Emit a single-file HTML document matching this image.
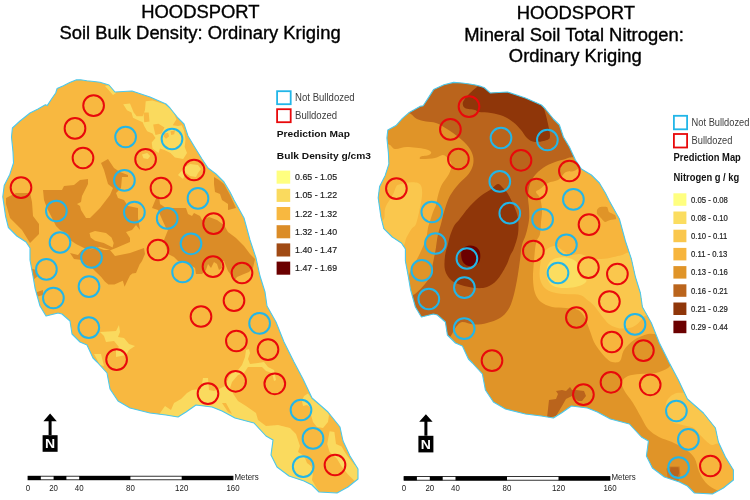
<!DOCTYPE html>
<html lang="en"><head><meta charset="utf-8"><title>Hoodsport kriging maps</title>
<style>html,body{margin:0;padding:0;background:#fff}body{width:750px;height:500px;overflow:hidden}#map{width:750px;height:500px;will-change:transform}svg{display:block;font-family:"Liberation Sans",sans-serif}</style></head>
<body>
<div id="map">
<svg width="750" height="500" viewBox="0 0 750 500">
<defs>
<clipPath id="cl"><path d="M12.4 128L20 121L30 113L38 109L45.4 104.8L47.2 105.6L51.7 98.8L55.7 93L57.1 88.5L63.4 85.7L69.7 82.6L76 79.9L80.5 79.7L86.8 80.8L94 81.5L100 82.2L109 85L115 92L132 91L150 97L166 104L170 108L178 118L184 124L188 136L194 146L202 159L208 168L216 174L224 182L230 192L234 200L244 218L250 240L256 258L260 276L265 292L267 306L276 322L284 342L294 362L303 379L312 398L328 412L340 427L343 441L350 456L358 469L358 479L348 487L337 493L319 492L312 485L304 481L289 476L277 467L271 455L273 440L266 436L254 423L235 418L222 411L212 407L196 405L186 412L178 417L166 415L150 413L130 408L118 401L110 389L107 373L97 362L93 358L87 345L80 342L72 334L70 321L62 314L58 313L46 316L40 306L35 288L33 276L30 260L30 248L26 242L16.8 236L8.4 227.6L5.6 216.4L2.8 196.8L4.2 185.6L9.8 174.4L13.5 163L13 152L11.5 137Z"/></clipPath>
<clipPath id="cr"><path d="M387.8 130L396 125.6L402.4 118.4L408.8 112.8L420 106.4L423.2 105.8L428 98.4L433.6 89.6L444 84.8L453.6 82.4L462 83L469.6 84L475.4 85L480.8 86.4L484 87.5L490.4 93L507.4 92L525.4 98L541.4 105L545.4 109L553.4 119L559.4 125L563.4 137L569.4 147L575.4 160L581.4 169L591.4 175L599.4 183L605.4 193L609.4 201L619.4 219L625.4 241L631.4 259L635.4 277L640.4 293L642.4 307L651.4 323L659.4 343L669.4 363L678.4 380L687.4 399L703.4 413L715.4 428L718.4 442L725.4 457L733.4 470L733.4 480L723.4 488L712.4 494L694.4 493L687.4 486L679.4 482L664.4 477L652.4 468L646.4 456L648.4 441L641.4 437L629.4 424L610.4 419L597.4 412L587.4 408L571.4 406L561.4 413L553.4 418L541.4 416L525.4 414L505.4 409L493.4 402L485.4 390L482.4 374L472.4 363L468.4 359L462.4 346L455.4 343L447.4 335L445.4 322L437.4 315L433.4 314L421.4 317L415.4 307L410.4 289L408.4 277L405.4 261L405.4 249L401.4 243L392.2 237L383.8 228.6L381 217.4L378.2 197.8L379.6 186.6L385.2 175.4L388.9 164L388.4 153L386.9 138Z"/></clipPath>
</defs>
<rect width="750" height="500" fill="#fff"/>
<g clip-path="url(#cl)">
<rect x="0" y="70" width="370" height="430" fill="#F8B840"/>
<path fill="#DB8C27" d="M6 198L16 193L30 193L32 202L33 216L39 224L39 234L30 243L22 230L10 218L6 204ZM43 190L62 190L64 186L74 185L80 180L88 179L88 184L82 196L81 202L77 204L80 206L81 210L86 218L90 218L100 208L110 195L113 188L108 184L104 170L101 163L108 159L114 168L120 172L128 175L128 177L122 177L121 188L116 193L118 198L124 200L128 206L138 208L138 218L140 230L136 225L132 230L126 232L130 238L130 242L116 248L111 250L104 250L96 247L88 250L76 244L70 240L68 234L60 230L56 226L52 218L47 208L44 200ZM70 253L74 259L82 260L84 264L92 268L96 272L101.2 277L104.8 281.4L108.4 284.4L114.4 284.4L122.8 280.8L124.6 286.8L127.6 280.2L130 275.4L132.4 273.6L136 273L139.6 264.6L142 261L145 254L144 248L130 253L115 256L110 250L100 247L88 250L82 250L78 255ZM152 208L157 196L159 196L160 204L166 208L186 208L188 214L192 216L194 213L200 216L202 220L209 217L217 220L224 225L228 232L236 238L244 246L250 254L255 259L253 268L249 272L244 274L237 277L234 281L231 275L228 271L224 261L221 261L222 268L219 270L217 264L214 262L211 268L208 264L206 270L202 274L196 274L195 268L190 265L186 262L178 261L174 257L168 254L164 240L168 230L166 228L161 217L158 210ZM214 177L219 180L224 184L230 195L236 208L228 210L228 204L222 200L220 194L215 192L214 184ZM30 268L36 270L38 276L33 280ZM34 293L43 290L43 295L36 297Z"/>
<path fill="#FADA5E" d="M145.7 101.2L152.5 100.5L164.5 104.2L169 107.2L174.2 114L176.5 119.2L172.7 125.2L178 126L181.7 125.2L184 130.5L185.5 139.5L184.7 147L187 153L183.2 159L175 157.5L170.5 153L164.5 150L160 148.5L158.5 153L152.5 148.5L151.7 142.5L155.5 138L152.5 133.5L147.2 131.2L144.2 126L142.7 122.2L142.7 116.2L145 110ZM123.2 104.2L130 103.5L133.7 112.5L136.7 116.2L142.7 116.2L142.7 122.2L136 119.2L133 117.7L131.5 112.5L127 110.2ZM142 154.5L147.2 153L150.2 156L148 159L143.5 158.2ZM185 167L190 164L198 165L201 169L198 173L196 177L190 176L186 173L183 179L178 175ZM105 86L109 85L116 93L113 95ZM100 332L116 331L119 325L120 332L118 337L124 338L129 344L135 346L129 350L126 355L116 357L116 350L119 347L114 341L106 342L104 336ZM94 354L101 354L104 366L100 365ZM158 416L165 406L171 410L174 403L181 399L187 393L192 390L201 389L203 378L208 378L209 390L214 391L219 389L225 386L230 375L238 370L242 365L245 357L246 350L249 349L250 353L248 359L250 364L258 363L264 362L268 367L274 370L276 380L274 381L272 373L266 371L262 367L254 367L248 367L244 373L238 375L232 382L230 388L234 395L238 401L246 406L256 413L258 420L266 426L278 425L290 428L296 434L300 446L298 452L304 456L309 459L311 466L313 472L312 480L316 487L323 497L311 497L290 490L265 470L260 440L240 425L215 415L196 410L186 418L178 424L166 421ZM304 396L308 393.5L312 399L318 404L325 408L329 415L328 422L323 428L317 427L313 422L311 415L310 407L307 405L303 406L302 401ZM329.6 431.2L334.4 432L336 444L341.6 446.4L344.8 452L348 456.8L354.4 464.8L364 470L364 484L354.4 480.8L348 474.4L341.6 466.4L336.8 458.4L329.6 452L327.2 444Z"/>
<path fill="#F8B840" d="M89.5 233.1L95 230.9L106 233.1L111.5 237.5L113.7 243L112.6 247.4L103.8 243L95 240.8L90.6 237.5ZM143.5 112.5L148.7 112.5L149.5 121.5L144.2 122.2ZM153.2 124.5L158.5 123.7L164.5 127.5L161.5 133.5L155.5 135L154 129ZM164.5 133.5L168.2 132.7L169 136.5L166 138.7L163.7 136.5ZM170.5 131.2L175 130.5L174.2 134.2L171.2 135ZM222 403L226 403L232 414L228 412ZM305 458L311 459L311 466L307 463Z"/>
</g>
<path d="M12.4 128L20 121L30 113L38 109L45.4 104.8L47.2 105.6L51.7 98.8L55.7 93L57.1 88.5L63.4 85.7L69.7 82.6L76 79.9L80.5 79.7L86.8 80.8L94 81.5L100 82.2L109 85L115 92L132 91L150 97L166 104L170 108L178 118L184 124L188 136L194 146L202 159L208 168L216 174L224 182L230 192L234 200L244 218L250 240L256 258L260 276L265 292L267 306L276 322L284 342L294 362L303 379L312 398L328 412L340 427L343 441L350 456L358 469L358 479L348 487L337 493L319 492L312 485L304 481L289 476L277 467L271 455L273 440L266 436L254 423L235 418L222 411L212 407L196 405L186 412L178 417L166 415L150 413L130 408L118 401L110 389L107 373L97 362L93 358L87 345L80 342L72 334L70 321L62 314L58 313L46 316L40 306L35 288L33 276L30 260L30 248L26 242L16.8 236L8.4 227.6L5.6 216.4L2.8 196.8L4.2 185.6L9.8 174.4L13.5 163L13 152L11.5 137Z" fill="none" stroke="#4CC8EC" stroke-width="1.1" stroke-linejoin="round"/>
<g clip-path="url(#cr)">
<rect x="375" y="70" width="375" height="430" fill="#E09428"/>
<path fill="#F7B53D" d="M370 140C373 122.3 383.8 142.5 388 144C392.2 145.5 391.8 148.5 395 149C398.2 149.5 402 147 407 147C412 147 421 148.2 425 149C429 149.8 430.3 151 431 152C431.7 153 430.7 154.2 429 155C427.3 155.8 422.3 155.8 421 156.5C419.7 157.2 418.7 158.8 421 159C423.3 159.2 431.3 158.7 435 158C438.7 157.3 440.7 154.7 443 155C445.3 155.3 447.6 157.9 449 159.6C450.4 161.3 451.5 162.6 451.5 165C451.5 167.4 450.6 170.7 449 174C447.4 177.3 443.4 181.4 441.6 185C439.8 188.6 438.9 192.3 438 195.6C437.1 198.9 436.8 202.3 436 205C435.2 207.7 433.9 209.5 433 212C432.1 214.5 431.2 217.3 430.4 220C429.6 222.7 428.7 224.8 428 228C427.3 231.2 427.2 235.2 426 239C424.8 242.8 422.8 247 421 251C419.2 255 416.6 260 415 263C413.4 266 412.4 267 411.4 269C410.4 271 409.7 272.5 409 275C408.3 277.5 409.3 282.5 407 284C404.7 285.5 401.2 289.7 395 284C388.8 278.3 374.2 274 370 250C365.8 226 367 157.7 370 140ZM584 160C577.3 157.8 581.7 165.2 580 167C578.3 168.8 576.3 170.2 574 171C571.7 171.8 568 171.2 566 172C564 172.8 563.3 174.7 562 176C560.7 177.3 560.3 178.8 558 180C555.7 181.2 551 181.5 548 183C545 184.5 542 187.5 540 189C538 190.5 536 190.5 536 192C536 193.5 539 195 540 198C541 201 541.8 206 542 210C542.2 214 541.3 218 541 222C540.7 226 540.8 230.5 540 234C539.2 237.5 537 238.5 536 243C535 247.5 534.5 255 534 261C533.5 267 532.8 273.7 533 279C533.2 284.3 533.7 289.2 535 293C536.3 296.8 538.2 299.7 541 302C543.8 304.3 547.8 306 552 307C556.2 308 561.8 307.6 566 308C570.2 308.4 574 308.2 577 309.5C580 310.8 581.9 312.6 584 316C586.1 319.4 587.9 325.7 589.6 330C591.3 334.3 592.3 338.5 594 342C595.7 345.5 598 348.3 600 351C602 353.7 604 356.2 606 358C608 359.8 609.7 361.5 612 362C614.3 362.5 618 363 620 361C622 359 621.7 353.5 624 350C626.3 346.5 630 342.7 634 340C638 337.3 643.3 335.2 648 334C652.7 332.8 656.7 335.3 662 333C667.3 330.7 680.3 335.5 680 320C679.7 304.5 670 263.3 660 240C650 216.7 632.7 193.3 620 180C607.3 166.7 590.7 162.2 584 160ZM676 362C670.7 360 671.3 366.2 668 368C664.7 369.8 660.7 372 656 373C651.3 374 644.7 373.5 640 374C635.3 374.5 631 374.7 628 376C625 377.3 622.7 379.7 622 382C621.3 384.3 622.2 386.5 624 390C625.8 393.5 630.2 398.5 633 403C635.8 407.5 638.5 412.7 641 417C643.5 421.3 645 425.7 648 429C651 432.3 655 434.8 659 437C663 439.2 667.5 439.9 672 442C676.5 444.1 682 446.7 685.8 449.4C689.6 452.1 692.4 454.5 694.6 458.2C696.8 461.9 697.2 467.4 699 471.4C700.8 475.4 703 479.5 705.6 482.4C708.2 485.3 711.3 487.4 714.4 489C717.5 490.6 718.9 491.5 724 492C729.1 492.5 741.5 500.7 745 492C748.5 483.3 752.5 458.7 745 440C737.5 421.3 711.5 393 700 380C688.5 367 681.3 364 676 362Z"/>
<path fill="#FAC74D" d="M396 187C397 185.3 396.8 185.2 399 184.5C401.2 183.8 405.8 182.8 409 182.5C412.2 182.2 415.9 182.2 418 183C420.1 183.8 420.8 184.8 421.5 187C422.2 189.2 422.3 192.2 422 196C421.7 199.8 420.5 205.3 419.5 210C418.5 214.7 417.3 220.8 416 224C414.7 227.2 413.1 226.8 411.5 229C409.9 231.2 408.1 234.7 406.5 237.5C404.9 240.3 405.6 246.4 402 246C398.4 245.6 389.5 239 385 235C380.5 231 375.2 224.6 375 222C374.8 219.4 382 221.6 383.6 219.6C385.2 217.6 384.2 212.6 384.8 210C385.4 207.4 385.6 206.6 387 204C388.4 201.4 391.5 197.2 393 194.4C394.5 191.6 395 188.7 396 187ZM543 254C544.2 251.1 545.5 250.2 547 249C548.5 247.8 550.2 246.9 552 246.5C553.8 246.1 555.8 245.9 557.5 246.5C559.2 247.1 559.9 248.6 562 250C564.1 251.4 567.2 254.3 570 255C572.8 255.7 576 253.8 579 254C582 254.2 585 255.7 588 256.5C591 257.3 593.4 258.8 597 259C600.6 259.2 605.7 258.6 609.6 258C613.5 257.4 616.7 256.3 620.4 255.6C624.1 254.9 627.9 249.9 632 254C636.1 258.1 641.2 269.7 645 280C648.8 290.3 654.9 309.8 655 315.8C655.1 321.8 647.5 315.3 645.4 315.8C643.3 316.3 643.9 317.3 642.4 318.8C640.9 320.3 638.4 323.3 636.4 324.8C634.4 326.3 633.2 327.2 630.4 327.8C627.6 328.4 623 328.9 619.6 328.4C616.2 327.9 612.6 326.4 610 324.8C607.4 323.2 605.8 320.9 604 318.8C602.2 316.7 600.8 314.3 599 312C597.2 309.7 595.2 306.9 593.4 305C591.6 303.1 590.1 302.2 588 300.6C585.9 299 584.1 296.2 580.8 295.2C577.5 294.1 572.7 294.8 568.2 294.3C563.7 293.9 557.7 293.6 553.8 292.5C549.9 291.4 547.1 290.2 544.8 288C542.5 285.8 540.8 282.6 540 279C539.2 275.4 539.5 270.6 540 266.4C540.5 262.2 541.8 256.9 543 254ZM695 388C689.1 385.1 687.8 391.6 684.8 392.4C681.8 393.2 679.2 392.3 676.8 393C674.4 393.7 672.1 394.9 670.4 396.4C668.7 397.9 667.2 399.7 666.4 402C665.6 404.3 665.3 407.3 665.6 410C665.9 412.7 666.7 415.9 668 418C669.3 420.1 671.1 421.6 673.6 422.8C676.1 424 680 424.4 683.2 425.2C686.4 426 690.1 426.1 692.8 427.6C695.5 429.1 697.1 431.9 699.2 434C701.3 436.1 703.5 438.6 705.6 440.4C707.7 442.2 709.9 444.5 712 445C714.1 445.5 714.6 443.9 718.4 443.6C722.2 443.3 734.7 448.6 735 443C735.3 437.4 726.7 419.2 720 410C713.3 400.8 700.9 390.9 695 388Z"/>
<path fill="#FBDD60" d="M549.3 262.8C550.8 260.9 552.8 259.2 555.6 258.3C558.5 257.4 563.1 256.9 566.4 257.4C569.7 257.8 573.3 259.2 575.4 261C577.5 262.8 578.2 265.5 579 268.2C579.8 270.9 578.8 275.2 580 277.2C581.2 279.2 585.5 278.9 586.2 280C586.9 281.1 586.2 282.3 584.4 283.5C582.6 284.7 579.3 286.2 575.4 287C571.5 287.8 564.9 288.3 561 288C557.1 287.7 554.2 286.8 552 285.3C549.8 283.8 548.4 281.6 547.5 279C546.6 276.4 546.3 272.7 546.6 270C546.9 267.3 547.8 264.8 549.3 262.8Z"/>
<path fill="#E09428" d="M597 210C597.2 209.4 599.2 207.2 600 207C600.8 206.8 606.2 206.6 607 207C607.8 207.4 608.3 211.3 609 212C609.7 212.7 614.4 214.4 615 215C615.6 215.6 616.4 218.6 616 219C615.6 219.4 610.9 219.8 610 220C609.1 220.2 605.8 222.2 605 222C604.2 221.8 600.7 217.7 600 217C599.3 216.3 597.2 214.6 597 214C596.8 213.4 596.8 210.6 597 210Z"/>
<path fill="#BA641C" d="M400 105C395.2 112.3 408.2 111.7 411 114C413.8 116.3 414.5 117.8 417 119C419.5 120.2 422.8 120.8 426 121.5C429.2 122.2 432.5 121.8 436 123C439.5 124.2 443.1 126.5 447 129C450.9 131.5 456 135 459.6 138C463.2 141 466.4 144 468.6 147C470.8 150 472.3 153 473 156C473.7 159 473.7 162 473 165C472.3 168 470.8 171 468.6 174C466.4 177 462.3 180 459.6 183C456.9 186 454.3 189.2 452.4 192C450.5 194.8 449.4 196.7 448 200C446.6 203.3 445.2 208 444 212C442.8 216 441.9 220.7 441 224C440.1 227.3 439.3 229.3 438.6 232C437.9 234.7 437.5 236.8 437 240C436.5 243.2 436.1 247.2 435.4 251C434.7 254.8 433.8 259 433 263C432.2 267 431.9 271.5 430.6 275C429.3 278.5 427.6 280.8 425 284C422.4 287.2 418.3 291.3 415 294C411.7 296.7 405.8 295.3 405 300C404.2 304.7 404.2 318.3 410 322C415.8 325.7 433.8 319 440 322C446.2 325 445.3 337.5 447 340C448.7 342.5 449.2 338 450 337C450.8 336 451 335.7 452 334C453 332.3 454.3 329 456 327C457.7 325 459 322.4 462 322C465 321.6 469.8 324.3 474 324.5C478.2 324.7 482.7 324.1 487 323C491.3 321.9 496.5 320.2 500 318C503.5 315.8 505.8 313.3 508 310C510.2 306.7 511.5 303 513 298C514.5 293 515.8 286.3 517 280C518.2 273.7 519.2 265.8 520 260C520.8 254.2 521 249.3 522 245C523 240.7 524.8 238.2 526 234C527.2 229.8 528.5 224.3 529 220C529.5 215.7 529.2 212 529 208C528.8 204 527.8 200 528 196C528.2 192 528.7 187.7 530 184C531.3 180.3 533.3 177 536 174C538.7 171 542.3 168.2 546 166C549.7 163.8 554.3 162.3 558 161C561.7 159.7 564.3 159.8 568 158C571.7 156.2 579.7 159.7 580 150C580.3 140.3 583.3 113.3 570 100C556.7 86.7 521.7 75 500 70C478.3 65 456.7 64.2 440 70C423.3 75.8 404.8 97.7 400 105Z"/>
<path fill="#CC7C23" d="M666.4 468.8L669.6 466.4L679.6 466.4L680.4 474.4L678.4 481L668 480.4Z"/>
<path fill="#BA641C" d="M547 418L549 400L556 399L558 394L556 391L562 390L566 391L570 387L572 390L576 390L584 391L586 396L582 401L578 401L572 396L566 399L562 406L556 416ZM670.4 467.2L678.4 467.2L679.2 472.8L677.6 476.8L671.2 476L670 471.2Z"/>
<path fill="#8F3609" d="M463 102C463.7 99.7 466.7 96.5 469 94C471.3 91.5 474.7 89 477 87C479.3 85 481 81.5 483 82C485 82.5 485 88.8 489 90C493 91.2 501 88.3 507 89C513 89.7 519.3 92 525 94C530.7 96 537.7 98 541 101C544.3 104 543.8 108.2 545 112C546.2 115.8 547.2 120 548 124C548.8 128 550.2 133.3 550 136C549.8 138.7 549.5 139 547 140C544.5 141 538.3 142.3 535 142C531.7 141.7 529.3 140 527 138C524.7 136 523.3 132.7 521 130C518.7 127.3 516 124.3 513 122C510 119.7 506.7 117.5 503 116C499.3 114.5 495 113.7 491 113C487 112.3 481.7 112.5 479 112C476.3 111.5 477.3 110.7 475 110C472.7 109.3 467 109.3 465 108C463 106.7 462.3 104.3 463 102ZM498 184C500.2 183.7 501.3 186.3 503 188C504.7 189.7 506.2 191 508 194C509.8 197 512.3 202 514 206C515.7 210 517.3 213.3 518 218C518.7 222.7 518.7 229 518 234C517.3 239 515.3 244.3 514 248C512.7 251.7 511.3 253 510 256C508.7 259 508.2 262 506 266C503.8 270 500.2 276.5 497 280C493.8 283.5 490.7 285.7 487 287C483.3 288.3 479.3 288.3 475 288C470.7 287.7 465 286.3 461 285C457 283.7 453.7 282.5 451 280C448.3 277.5 446 274 445 270C444 266 444.5 260.3 445 256C445.5 251.7 447.2 247.3 448 244C448.8 240.7 449 239 450 236C451 233 452.5 228.7 454 226C455.5 223.3 457.2 222.3 459 220C460.8 217.7 463.2 214.3 465 212C466.8 209.7 468.2 208 470 206C471.8 204 474 201.8 476 200C478 198.2 479.7 196.7 482 195C484.3 193.3 487.3 191.8 490 190C492.7 188.2 495.8 184.3 498 184Z"/>
<path fill="#6B0000" d="M461.2 256C461 254 461.2 251.6 462 250C462.8 248.4 464.5 247.2 466 246.5C467.5 245.8 469.3 245.4 471 245.5C472.7 245.6 474.6 246.1 476 247C477.4 247.9 478.8 249.5 479.5 251C480.2 252.5 480.3 254.3 480.3 256C480.3 257.7 480.1 259.7 479.5 261C478.9 262.3 478.2 263.2 477 264C475.8 264.8 473.7 265.6 472 265.9C470.3 266.1 468.5 266.1 467 265.5C465.5 264.9 464 263.6 463 262C462 260.4 461.4 258 461.2 256Z"/>
</g>
<path d="M387.8 130L396 125.6L402.4 118.4L408.8 112.8L420 106.4L423.2 105.8L428 98.4L433.6 89.6L444 84.8L453.6 82.4L462 83L469.6 84L475.4 85L480.8 86.4L484 87.5L490.4 93L507.4 92L525.4 98L541.4 105L545.4 109L553.4 119L559.4 125L563.4 137L569.4 147L575.4 160L581.4 169L591.4 175L599.4 183L605.4 193L609.4 201L619.4 219L625.4 241L631.4 259L635.4 277L640.4 293L642.4 307L651.4 323L659.4 343L669.4 363L678.4 380L687.4 399L703.4 413L715.4 428L718.4 442L725.4 457L733.4 470L733.4 480L723.4 488L712.4 494L694.4 493L687.4 486L679.4 482L664.4 477L652.4 468L646.4 456L648.4 441L641.4 437L629.4 424L610.4 419L597.4 412L587.4 408L571.4 406L561.4 413L553.4 418L541.4 416L525.4 414L505.4 409L493.4 402L485.4 390L482.4 374L472.4 363L468.4 359L462.4 346L455.4 343L447.4 335L445.4 322L437.4 315L433.4 314L421.4 317L415.4 307L410.4 289L408.4 277L405.4 261L405.4 249L401.4 243L392.2 237L383.8 228.6L381 217.4L378.2 197.8L379.6 186.6L385.2 175.4L388.9 164L388.4 153L386.9 138Z" fill="none" stroke="#4CC8EC" stroke-width="1.1" stroke-linejoin="round"/>
<g fill="none" stroke-width="2">
<g stroke="#E8090B"><circle cx="93.6" cy="105.6" r="10.35"/><circle cx="75" cy="128.4" r="10.35"/><circle cx="83" cy="158" r="10.35"/><circle cx="21" cy="187.6" r="10.35"/><circle cx="145.6" cy="159.3" r="10.35"/><circle cx="194" cy="170" r="10.35"/><circle cx="161" cy="188" r="10.35"/><circle cx="213.6" cy="223.6" r="10.35"/><circle cx="158" cy="250" r="10.35"/><circle cx="213" cy="266.6" r="10.35"/><circle cx="242" cy="273" r="10.35"/><circle cx="234" cy="300.6" r="10.35"/><circle cx="201" cy="316.5" r="10.35"/><circle cx="236.4" cy="341" r="10.35"/><circle cx="268" cy="349.6" r="10.35"/><circle cx="116.6" cy="359.6" r="10.35"/><circle cx="235.6" cy="381.3" r="10.35"/><circle cx="274.8" cy="383.8" r="10.35"/><circle cx="208" cy="393.6" r="10.35"/><circle cx="335" cy="465" r="10.35"/></g>
<g stroke="#22B6E8"><circle cx="125.6" cy="137" r="10.35"/><circle cx="172" cy="139" r="10.35"/><circle cx="124.4" cy="180.4" r="10.35"/><circle cx="198" cy="198.4" r="10.35"/><circle cx="56.4" cy="211" r="10.35"/><circle cx="134.4" cy="212.2" r="10.35"/><circle cx="167.2" cy="218.4" r="10.35"/><circle cx="60" cy="242.5" r="10.35"/><circle cx="91.5" cy="257.5" r="10.35"/><circle cx="191" cy="243.8" r="10.35"/><circle cx="182.6" cy="272" r="10.35"/><circle cx="46.4" cy="269.4" r="10.35"/><circle cx="89" cy="286.6" r="10.35"/><circle cx="53.4" cy="298" r="10.35"/><circle cx="259.6" cy="323.4" r="10.35"/><circle cx="88.8" cy="327.6" r="10.35"/><circle cx="301" cy="410" r="10.35"/><circle cx="313" cy="438.4" r="10.35"/><circle cx="303.2" cy="466.6" r="10.35"/></g>
</g>
<g fill="none" stroke-width="2">
<g stroke="#E8090B"><circle cx="469" cy="106.6" r="10.35"/><circle cx="450.4" cy="129.4" r="10.35"/><circle cx="458.4" cy="159" r="10.35"/><circle cx="396.4" cy="188.6" r="10.35"/><circle cx="521" cy="160.3" r="10.35"/><circle cx="569.4" cy="171" r="10.35"/><circle cx="536.4" cy="189" r="10.35"/><circle cx="589" cy="224.6" r="10.35"/><circle cx="533.4" cy="251" r="10.35"/><circle cx="588.4" cy="267.6" r="10.35"/><circle cx="617.4" cy="274" r="10.35"/><circle cx="609.4" cy="301.6" r="10.35"/><circle cx="576.4" cy="317.5" r="10.35"/><circle cx="611.8" cy="342" r="10.35"/><circle cx="643.4" cy="350.6" r="10.35"/><circle cx="492" cy="360.6" r="10.35"/><circle cx="611" cy="382.3" r="10.35"/><circle cx="650.2" cy="384.8" r="10.35"/><circle cx="583.4" cy="394.6" r="10.35"/><circle cx="710.4" cy="466" r="10.35"/></g>
<g stroke="#22B6E8"><circle cx="501" cy="138" r="10.35"/><circle cx="547.4" cy="140" r="10.35"/><circle cx="499.8" cy="181.4" r="10.35"/><circle cx="573.4" cy="199.4" r="10.35"/><circle cx="431.8" cy="212" r="10.35"/><circle cx="509.8" cy="213.2" r="10.35"/><circle cx="542.6" cy="219.4" r="10.35"/><circle cx="435.4" cy="243.5" r="10.35"/><circle cx="466.9" cy="258.5" r="10.35"/><circle cx="566.4" cy="244.8" r="10.35"/><circle cx="558" cy="273" r="10.35"/><circle cx="421.8" cy="270.4" r="10.35"/><circle cx="464.4" cy="287.6" r="10.35"/><circle cx="428.8" cy="299" r="10.35"/><circle cx="635" cy="324.4" r="10.35"/><circle cx="464.2" cy="328.6" r="10.35"/><circle cx="676.4" cy="411" r="10.35"/><circle cx="688.4" cy="439.4" r="10.35"/><circle cx="678.6" cy="467.6" r="10.35"/></g>
</g>
<g fill="#000">
<path d="M50.1 413.6l6.7 7.6h-5.2v14h-3v-14h-5.2z"/>
<rect x="42.6" y="435.2" width="15" height="16.6"/>
<text fill="#fff" font-size="13" font-weight="bold" text-anchor="middle" transform="translate(50.1 448.2) scale(1.08 1)">N</text>
</g>
<g fill="#000">
<path d="M425.9 414.2l6.7 7.6h-5.2v14h-3v-14h-5.2z"/>
<rect x="418.4" y="435.8" width="15" height="16.6"/>
<text fill="#fff" font-size="13" font-weight="bold" text-anchor="middle" transform="translate(425.9 448.8) scale(1.08 1)">N</text>
</g>
<g>
<rect x="28" y="476.2" width="205" height="3.6" fill="#fff" stroke="#000" stroke-width="0.8"/>
<rect x="28" y="476" width="12.8" height="4" fill="#000"/>
<rect x="53.6" y="476" width="12.8" height="4" fill="#000"/>
<rect x="79.2" y="476" width="51.2" height="4" fill="#000"/>
<rect x="181.7" y="476" width="51.2" height="4" fill="#000"/>
<g font-size="8.6" fill="#222" text-anchor="middle">
<text transform="translate(28 491) scale(.92 1)">0</text>
<text transform="translate(53.6 491) scale(.92 1)">20</text>
<text transform="translate(79.2 491) scale(.92 1)">40</text>
<text transform="translate(130.5 491) scale(.92 1)">80</text>
<text transform="translate(181.7 491) scale(.92 1)">120</text>
<text transform="translate(233 491) scale(.92 1)">160</text>
</g>
<text transform="translate(234.5 479.6) scale(.92 1)" font-size="8.6" fill="#222">Meters</text>
</g>
<g>
<rect x="404" y="476.6" width="206" height="3.6" fill="#fff" stroke="#000" stroke-width="0.8"/>
<rect x="404" y="476.4" width="12.9" height="4" fill="#000"/>
<rect x="429.8" y="476.4" width="12.9" height="4" fill="#000"/>
<rect x="455.5" y="476.4" width="51.5" height="4" fill="#000"/>
<rect x="558.5" y="476.4" width="51.5" height="4" fill="#000"/>
<g font-size="8.6" fill="#222" text-anchor="middle">
<text transform="translate(404 491.4) scale(.92 1)">0</text>
<text transform="translate(429.8 491.4) scale(.92 1)">20</text>
<text transform="translate(455.5 491.4) scale(.92 1)">40</text>
<text transform="translate(507 491.4) scale(.92 1)">80</text>
<text transform="translate(558.5 491.4) scale(.92 1)">120</text>
<text transform="translate(610 491.4) scale(.92 1)">160</text>
</g>
<text transform="translate(611.5 480) scale(.92 1)" font-size="8.6" fill="#222">Meters</text>
</g>
<g font-size="17.6" fill="#000" stroke="#000" stroke-width=".35" text-anchor="middle">
<text transform="translate(200.4 18.2) scale(1.046 1)" x="0" y="0">HOODSPORT</text>
<text transform="translate(200 39.2) scale(1.046 1)" x="0" y="0">Soil Bulk Density: Ordinary Kriging</text>
<text transform="translate(575.8 19.2) scale(1.046 1)" x="0" y="0">HOODSPORT</text>
<text transform="translate(574 40.5) scale(1.046 1)" x="0" y="0">Mineral Soil Total Nitrogen:</text>
<text transform="translate(575.3 62.3) scale(1.046 1)" x="0" y="0">Ordinary Kriging</text>
</g>
<g>
<rect x="277.1" y="91.2" width="13.6" height="13" fill="#fff" stroke="#22B6E8" stroke-width="1.8"/>
<rect x="277.1" y="109.2" width="13.6" height="13" fill="#fff" stroke="#E8090B" stroke-width="1.8"/>
<text transform="translate(295.1 100.9) scale(0.84 1)" font-size="11.4" fill="#3c3c3c">Not Bulldozed</text>
<text transform="translate(295.1 119.1) scale(0.84 1)" font-size="11.4" fill="#3c3c3c">Bulldozed</text>
<text transform="translate(276.8 137.4) scale(1.075 1)" font-size="9.5" font-weight="bold" fill="#111">Prediction Map</text>
<text transform="translate(276.8 159) scale(1.075 1)" font-size="9.5" font-weight="bold" fill="#111">Bulk Density g/cm3</text>
<rect x="276.6" y="170.6" width="13.6" height="13.1" fill="#FFFF80"/>
<text transform="translate(295.1 180.2) scale(0.926 1)" font-size="9.5" fill="#222" stroke="#222" stroke-width=".2">0.65 - 1.05</text>
<rect x="276.6" y="188.8" width="13.6" height="13.1" fill="#FADA5E"/>
<text transform="translate(295.1 198.4) scale(0.926 1)" font-size="9.5" fill="#222" stroke="#222" stroke-width=".2">1.05 - 1.22</text>
<rect x="276.6" y="207" width="13.6" height="13.1" fill="#F8B840"/>
<text transform="translate(295.1 216.6) scale(0.926 1)" font-size="9.5" fill="#222" stroke="#222" stroke-width=".2">1.22 - 1.32</text>
<rect x="276.6" y="225.2" width="13.6" height="13.1" fill="#DB8C27"/>
<text transform="translate(295.1 234.8) scale(0.926 1)" font-size="9.5" fill="#222" stroke="#222" stroke-width=".2">1.32 - 1.40</text>
<rect x="276.6" y="243.4" width="13.6" height="13.1" fill="#A04A14"/>
<text transform="translate(295.1 253) scale(0.926 1)" font-size="9.5" fill="#222" stroke="#222" stroke-width=".2">1.40 - 1.47</text>
<rect x="276.6" y="261.6" width="13.6" height="13.1" fill="#6B0000"/>
<text transform="translate(295.1 271.2) scale(0.926 1)" font-size="9.5" fill="#222" stroke="#222" stroke-width=".2">1.47 - 1.69</text>
</g>
<g>
<rect x="673.9" y="115.8" width="13.2" height="13.5" fill="#fff" stroke="#22B6E8" stroke-width="1.8"/>
<rect x="673.9" y="134" width="13.2" height="13.5" fill="#fff" stroke="#E8090B" stroke-width="1.8"/>
<text transform="translate(691.6 125.8) scale(0.83 1)" font-size="11.2" fill="#3c3c3c">Not Bulldozed</text>
<text transform="translate(691.6 144) scale(0.83 1)" font-size="11.2" fill="#3c3c3c">Bulldozed</text>
<text transform="translate(673.6 160.8) scale(0.92 1)" font-size="10.2" font-weight="bold" fill="#111">Prediction Map</text>
<text transform="translate(673.6 181.3) scale(0.92 1)" font-size="10.2" font-weight="bold" fill="#111">Nitrogen g / kg</text>
<rect x="673.4" y="193.3" width="13" height="12.5" fill="#FFFF80"/>
<text transform="translate(691 202.5) scale(0.868 1)" font-size="8.9" fill="#222" stroke="#222" stroke-width=".2">0.05 - 0.08</text>
<rect x="673.4" y="211.5" width="13" height="12.5" fill="#FBDD60"/>
<text transform="translate(691 220.7) scale(0.868 1)" font-size="8.9" fill="#222" stroke="#222" stroke-width=".2">0.08 - 0.10</text>
<rect x="673.4" y="229.7" width="13" height="12.5" fill="#FAC74D"/>
<text transform="translate(691 238.9) scale(0.868 1)" font-size="8.9" fill="#222" stroke="#222" stroke-width=".2">0.10 - 0.11</text>
<rect x="673.4" y="247.9" width="13" height="12.5" fill="#F7B53D"/>
<text transform="translate(691 257.1) scale(0.868 1)" font-size="8.9" fill="#222" stroke="#222" stroke-width=".2">0.11 - 0.13</text>
<rect x="673.4" y="266.1" width="13" height="12.5" fill="#E09428"/>
<text transform="translate(691 275.3) scale(0.868 1)" font-size="8.9" fill="#222" stroke="#222" stroke-width=".2">0.13 - 0.16</text>
<rect x="673.4" y="284.3" width="13" height="12.5" fill="#BA641C"/>
<text transform="translate(691 293.5) scale(0.868 1)" font-size="8.9" fill="#222" stroke="#222" stroke-width=".2">0.16 - 0.21</text>
<rect x="673.4" y="302.5" width="13" height="12.5" fill="#8F3609"/>
<text transform="translate(691 311.7) scale(0.868 1)" font-size="8.9" fill="#222" stroke="#222" stroke-width=".2">0.21 - 0.29</text>
<rect x="673.4" y="320.7" width="13" height="12.5" fill="#6B0000"/>
<text transform="translate(691 329.9) scale(0.868 1)" font-size="8.9" fill="#222" stroke="#222" stroke-width=".2">0.29 - 0.44</text>
</g>
</svg>
</div>
</body></html>
